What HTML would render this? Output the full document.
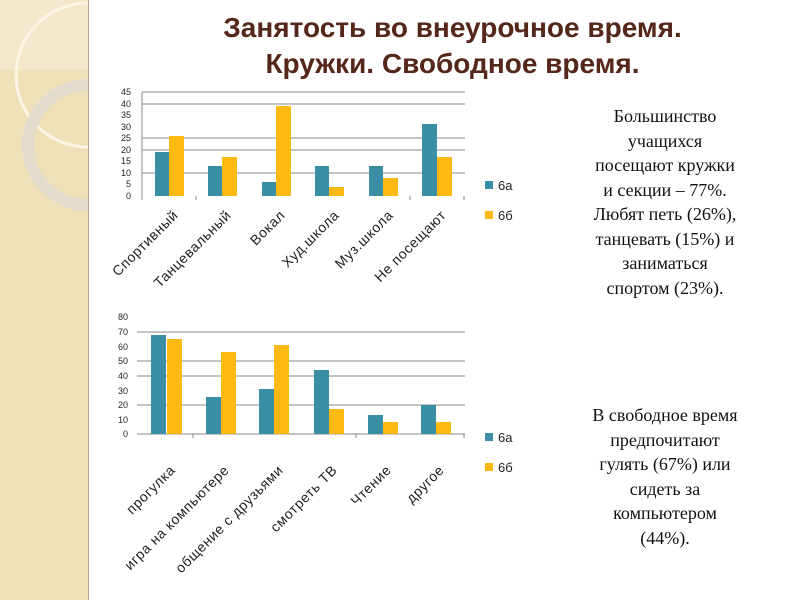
<!DOCTYPE html>
<html><head><meta charset="utf-8"><style>
body{margin:0;width:800px;height:600px;background:#fff;position:relative;overflow:hidden;font-family:"Liberation Sans",sans-serif}
.left{position:absolute;left:0;top:0;width:88px;height:600px;background:#f0e0b8;border-right:1px solid #b8a888}
.title{position:absolute;left:120px;width:665px;text-align:center;top:10px;font-size:28px;font-weight:bold;color:#55261a;line-height:36px}
.txt{position:absolute;font-family:"Liberation Serif",serif;font-size:18px;text-align:center;line-height:24.5px;color:#111}
</style></head><body>
<div class="left">
<svg width="88" height="600"><rect width="88" height="70" fill="#f3e7cc"/><circle cx="88" cy="75" r="72" fill="none" stroke="#fbf5e6" stroke-width="3"/><circle cx="88" cy="145" r="60" fill="none" stroke="#e2dccd" stroke-width="12"/></svg>
</div>
<div class="title">Занятость во внеурочное время.<br>Кружки. Свободное время.</div>
<svg width="800" height="600" style="position:absolute;left:0;top:0" font-family="Liberation Sans, sans-serif">
<g font-size="9" fill="#222" text-anchor="end">
<text x="131" y="95">45</text><text x="131" y="107">40</text><text x="131" y="118">35</text><text x="131" y="130">30</text><text x="131" y="141">25</text><text x="131" y="153">20</text><text x="131" y="164">15</text><text x="131" y="176">10</text><text x="131" y="187">5</text><text x="131" y="199">0</text>
</g>
<g stroke="#888" stroke-width="1">
<line x1="142" x2="465" y1="92" y2="92"/><line x1="142" x2="465" y1="104" y2="104"/><line x1="142" x2="465" y1="138" y2="138"/><line x1="142" x2="465" y1="150" y2="150"/><line x1="142" x2="465" y1="173" y2="173"/>
<line x1="142" x2="142" y1="92" y2="200"/><line x1="196" x2="196" y1="196" y2="200"/><line x1="410" x2="410" y1="196" y2="200"/><line x1="464" x2="464" y1="196" y2="200"/>
</g>
<g fill="#3a8fa5">
<rect x="155" y="152" width="14" height="44"/><rect x="208" y="166" width="14" height="30"/><rect x="262" y="182" width="14" height="14"/><rect x="315" y="166" width="14" height="30"/><rect x="369" y="166" width="14" height="30"/><rect x="422" y="124" width="15" height="72"/>
</g>
<g fill="#fdb913">
<rect x="169" y="136" width="15" height="60"/><rect x="222" y="157" width="15" height="39"/><rect x="276" y="106" width="15" height="90"/><rect x="329" y="187" width="15" height="9"/><rect x="383" y="178" width="15" height="18"/><rect x="437" y="157" width="15" height="39"/>
</g>
<g font-size="14" letter-spacing="0.6" fill="#222" text-anchor="end">
<text transform="translate(179,216) rotate(-45)">Спортивный</text>
<text transform="translate(232,216) rotate(-45)">Танцевальный</text>
<text transform="translate(286,216) rotate(-45)">Вокал</text>
<text transform="translate(340,216) rotate(-45)">Худ.школа</text>
<text transform="translate(394,216) rotate(-45)">Муз.школа</text>
<text transform="translate(447,216) rotate(-45)">Не посещают</text>
</g>
<rect x="485" y="181" width="8" height="8" fill="#3a8fa5"/><text x="498" y="190" font-size="13" fill="#222">6а</text>
<rect x="485" y="211" width="8" height="8" fill="#fdb913"/><text x="498" y="220" font-size="13" fill="#222">6б</text>

<g font-size="9" fill="#222" text-anchor="end">
<text x="128" y="320">80</text><text x="128" y="335">70</text><text x="128" y="350">60</text><text x="128" y="364">50</text><text x="128" y="379">40</text><text x="128" y="394">30</text><text x="128" y="408">20</text><text x="128" y="423">10</text><text x="128" y="437">0</text>
</g>
<g stroke="#888" stroke-width="1">
<line x1="137" x2="465" y1="332" y2="332"/><line x1="137" x2="465" y1="361" y2="361"/><line x1="137" x2="465" y1="376" y2="376"/><line x1="137" x2="465" y1="405" y2="405"/><line x1="137" x2="465" y1="434" y2="434"/>
<line x1="193" x2="193" y1="434" y2="438"/><line x1="356" x2="356" y1="434" y2="438"/><line x1="464" x2="464" y1="434" y2="438"/>
</g>
<g fill="#3a8fa5">
<rect x="151" y="335" width="15" height="99"/><rect x="206" y="397" width="15" height="37"/><rect x="259" y="389" width="15" height="45"/><rect x="314" y="370" width="15" height="64"/><rect x="368" y="415" width="15" height="19"/><rect x="421" y="405" width="15" height="29"/>
</g>
<g fill="#fdb913">
<rect x="167" y="339" width="15" height="95"/><rect x="221" y="352" width="15" height="82"/><rect x="274" y="345" width="15" height="89"/><rect x="329" y="409" width="15" height="25"/><rect x="383" y="422" width="15" height="12"/><rect x="436" y="422" width="15" height="12"/>
</g>
<g font-size="14" letter-spacing="0.6" fill="#222" text-anchor="end">
<text transform="translate(176,471) rotate(-45)">прогулка</text>
<text transform="translate(230,471) rotate(-45)">игра на компьютере</text>
<text transform="translate(284,471) rotate(-45)">общение с друзьями</text>
<text transform="translate(338,471) rotate(-45)">смотреть ТВ</text>
<text transform="translate(392,471) rotate(-45)">Чтение</text>
<text transform="translate(445,471) rotate(-45)">другое</text>
</g>
<rect x="485" y="433" width="8" height="8" fill="#3a8fa5"/><text x="498" y="442" font-size="13" fill="#222">6а</text>
<rect x="485" y="463" width="8" height="8" fill="#fdb913"/><text x="498" y="472" font-size="13" fill="#222">6б</text>
</svg>
<div class="txt" style="left:560px;width:210px;top:104px">Большинство<br>учащихся<br>посещают кружки<br>и секции – 77%.<br>Любят петь (26%),<br>танцевать (15%) и<br>заниматься<br>спортом (23%).</div>
<div class="txt" style="left:560px;width:210px;top:403px">В свободное время<br>предпочитают<br>гулять (67%) или<br>сидеть за<br>компьютером<br>(44%).</div>
</body></html>
